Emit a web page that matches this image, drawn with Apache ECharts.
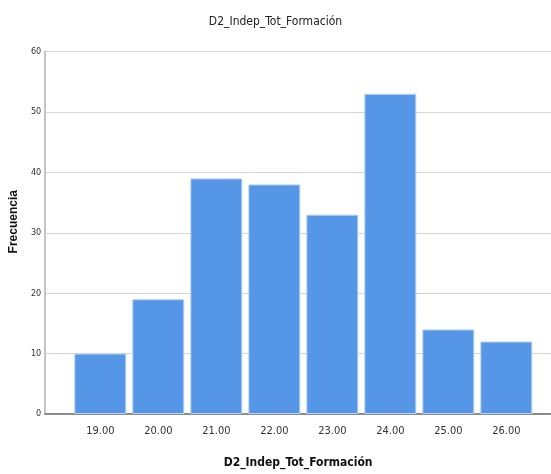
<!DOCTYPE html>
<html>
<head>
<meta charset="utf-8">
<script src="https://cdn.jsdelivr.net/npm/echarts@6/dist/echarts.min.js"></script>
<style>html,body{margin:0;padding:0;background:#fff}#c{width:551px;height:474px}</style>
</head>
<body>
<div id="c"></div>
<script>
const categories = [19, 20, 21, 22, 23, 24, 25, 26];
const frequencies = [10, 19, 39, 38, 33, 53, 14, 12];
const yTicks = [0, 10, 20, 30, 40, 50, 60];
const titleText = 'D2_Indep_Tot_Formación';
const yName = 'Frecuencia';

const font = '"DejaVu Sans Condensed", "Liberation Sans Narrow", "Liberation Sans", Arial, sans-serif';
const chart = echarts.init(document.getElementById('c'), null, {renderer: 'canvas'});
chart.setOption({
  animation: false,
  backgroundColor: '#ffffff',
  title: {
    text: titleText, left: 'center', top: 11,
    textStyle: {fontFamily: font, fontSize: 12, fontWeight: 'normal', color: '#222'}
  },
  grid: {left: 43, right: 0, top: 51.5, bottom: 55.3, containLabel: false},
  xAxis: {
    type: 'value', min: 18.05, max: 26.77,
    name: titleText, nameLocation: 'middle', nameGap: 43,
    nameTextStyle: {fontFamily: font, fontSize: 12, fontWeight: 'bold', color: '#111'},
    axisLine: {show: true, lineStyle: {color: '#8c8c8c', width: 2}},
    axisTick: {show: false},
    splitLine: {show: false},
    axisLabel: {
      customValues: categories, fontFamily: font, fontSize: 11, color: '#333', margin: 12,
      formatter: v => Number(v).toFixed(2)
    }
  },
  yAxis: {
    type: 'value', min: 0, max: 60, interval: 10,
    name: yName, nameLocation: 'middle', nameGap: 19, nameRotate: 90,
    nameTextStyle: {fontFamily: '"Liberation Sans", Arial, sans-serif', fontSize: 12, fontWeight: 'bold', color: '#111', padding: [0, 0, 0, 22]},
    axisLine: {show: true, lineStyle: {color: '#c4c4c4', width: 2}},
    axisTick: {show: false},
    splitLine: {show: true, lineStyle: {color: '#d4d4d4', width: 1}},
    axisLabel: {fontFamily: font, fontSize: 9, color: '#333', margin: 4,
      formatter: v => yTicks.includes(v) ? String(v) : ''}
  },
  series: [{
    type: 'bar',
    data: categories.map((c, i) => [c, frequencies[i]]),
    barWidth: 52,
    itemStyle: {color: '#5596e6', borderColor: '#b9d3f3', borderWidth: 1}
  }]
});
</script>
</body>
</html>
